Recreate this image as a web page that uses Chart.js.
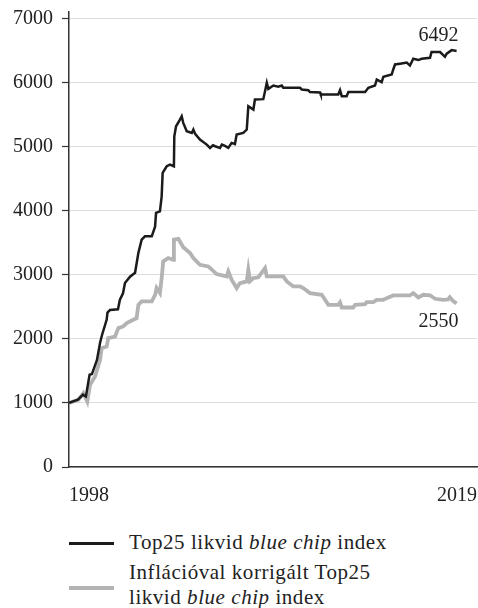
<!DOCTYPE html>
<html>
<head>
<meta charset="utf-8">
<script src="https://cdn.jsdelivr.net/npm/chart.js@4.4.1/dist/chart.umd.min.js"></script>
<style>
  html, body { margin: 0; padding: 0; background: #ffffff; }
  body { width: 478px; height: 608px; position: relative; overflow: hidden;
         font-family: "Liberation Serif", "DejaVu Serif", serif; color: #222; }
  #c { position: absolute; left: 0; top: 0; }
  .lg-line { position: absolute; left: 69px; width: 45px; }
  .lg-text { position: absolute; left: 129px; font-size: 21px; line-height: 25px; letter-spacing: 0.55px; white-space: nowrap; color: #222; }
</style>
</head>
<body>
<canvas id="c" width="478" height="520"></canvas>
<div class="lg-line" style="top:542px;height:2.5px;background:#1b1b1b;"></div>
<div class="lg-text" style="top:530px;">Top25 likvid <i>blue chip</i> index</div>
<div class="lg-line" style="top:586px;height:4px;background:#b3b3b3;"></div>
<div class="lg-text" style="top:560px;">Inflációval korrigált Top25<br>likvid <i>blue chip</i> index</div>
<script>
// ---- data ----
const seriesNames = ["Top25 likvid blue chip index", "Inflációval korrigált Top25 likvid blue chip index"];

const nominalYears = [1998.00,1998.46,1998.72,1998.87,1998.98,1999.06,1999.18,1999.44,1999.60,1999.70,
  1999.94,1999.98,2000.11,2000.52,2000.62,2000.78,2000.88,2001.14,2001.40,2001.57,
  2001.74,2001.91,2002.26,2002.43,2002.48,2002.68,2002.77,2002.82,2003.03,2003.20,
  2003.40,2003.42,2003.51,2003.71,2003.80,2003.88,2004.06,2004.32,2004.40,2004.49,
  2004.74,2005.09,2005.26,2005.41,2005.52,2005.77,2005.87,2006.03,2006.20,2006.37,
  2006.54,2006.63,2006.97,2007.15,2007.23,2007.49,2007.57,2008.00,2008.09,2008.18,
  2008.26,2008.52,2008.77,2008.95,2009.03,2009.89,2009.98,2010.32,2010.40,2010.92,
  2010.96,2011.86,2011.95,2012.04,2012.29,2012.38,2013.24,2013.41,2013.75,2013.84,
  2014.09,2014.18,2014.61,2014.69,2014.78,2015.12,2015.38,2015.55,2015.72,2015.98,
  2016.15,2016.58,2016.66,2017.10,2017.35,2017.44,2017.70,2017.95];
const nominalValues = [1000,1050,1130,1100,1300,1440,1450,1670,1940,2060,
  2300,2410,2450,2460,2610,2710,2870,2970,3030,3340,
  3547,3600,3600,3750,3964,3990,4224,4589,4693,4719,
  4693,5161,5317,5422,5474,5370,5239,5213,5266,5200,
  5109,5031,4979,5020,5005,4979,5030,5010,4979,5057,
  5040,5187,5213,5266,5630,5578,5734,5740,5864,5995,
  5900,5953,5935,5953,5917,5917,5891,5880,5850,5845,
  5812,5812,5880,5786,5786,5850,5850,5917,5953,6047,
  6005,6089,6125,6203,6281,6297,6310,6266,6370,6350,
  6370,6386,6474,6474,6401,6450,6505,6492];

const realYears = [1998.00,1998.48,1998.74,1998.94,1999.08,1999.34,1999.60,1999.68,1999.94,2000.02,
  2000.37,2000.54,2000.79,2000.97,2001.31,2001.48,2001.57,2001.74,2002.26,2002.43,
  2002.51,2002.68,2002.77,2002.85,2003.11,2003.37,2003.40,2003.63,2003.88,2004.23,
  2004.40,2004.74,2005.17,2005.60,2006.12,2006.20,2006.37,2006.63,2006.80,2007.15,
  2007.23,2007.32,2007.49,2007.74,2008.09,2008.18,2009.03,2009.21,2009.55,2009.89,
  2010.06,2010.40,2011.01,2011.35,2011.86,2011.95,2012.04,2012.63,2012.72,2013.24,
  2013.32,2013.66,2013.84,2014.18,2014.35,2014.69,2015.55,2015.72,2015.98,2016.24,
  2016.58,2016.84,2017.27,2017.51,2017.60,2017.77,2017.95];
const realValues = [1000,1047,1151,1020,1281,1411,1672,1854,1880,2011,
  2036,2167,2193,2245,2297,2323,2531,2583,2583,2687,
  2792,2714,2948,3208,3261,3234,3547,3560,3430,3339,
  3261,3156,3130,3010,2974,3052,2922,2792,2870,2896,
  3078,2900,2948,2960,3104,2974,2974,2896,2817,2817,
  2792,2714,2687,2531,2531,2570,2489,2489,2531,2540,
  2573,2573,2609,2609,2635,2677,2677,2714,2646,2687,
  2680,2625,2609,2615,2650,2590,2550];

const endLabels = ["6492", "2550"];
const yTicks = [0, 1000, 2000, 3000, 4000, 5000, 6000, 7000];
const xTicks = [1998, 2019];
const xTickLabels = ["1998", "2019"];

// ---- build ----
const toPoints = (xs, ys) => xs.map((x, i) => ({ x: x, y: ys[i] }));

const endLabelPlugin = {
  id: 'endLabels',
  afterDatasetsDraw(chart) {
    const ctx = chart.ctx;
    ctx.save();
    ctx.font = '20px "Liberation Serif", "DejaVu Serif", serif';
    ctx.fillStyle = '#222';
    ctx.textAlign = 'right';
    ctx.textBaseline = 'alphabetic';
    const offsets = [-10, 23];
    chart.data.datasets.forEach((ds, i) => {
      const meta = chart.getDatasetMeta(i);
      const last = meta.data[meta.data.length - 1];
      ctx.fillText(endLabels[i], last.x + 2, last.y + offsets[i]);
    });
    ctx.restore();
  }
};

new Chart(document.getElementById('c'), {
  type: 'line',
  data: {
    datasets: [
      { label: seriesNames[0], data: toPoints(nominalYears, nominalValues),
        borderColor: '#1b1b1b', borderWidth: 2.5, pointRadius: 0, tension: 0, fill: false },
      { label: seriesNames[1], data: toPoints(realYears, realValues),
        borderColor: '#b3b3b3', borderWidth: 3.8, pointRadius: 0, tension: 0, fill: false }
    ]
  },
  options: {
    responsive: false,
    animation: false,
    layout: { padding: { top: 12, right: 1, left: 0, bottom: 0 } },
    plugins: { legend: { display: false }, tooltip: { enabled: false } },
    scales: {
      x: {
        type: 'linear',
        min: 1998, max: 2019,
        afterBuildTicks: (s) => { s.ticks = xTicks.map(v => ({ value: v })); },
        afterFit: (s) => { s.height = 53; s.paddingLeft = 0; s.paddingRight = 0; },
        grid: { display: false, drawTicks: false },
        border: { display: true, color: '#333', width: 1.5 },
        ticks: {
          align: 'inner', padding: 17, maxRotation: 0, autoSkip: false,
          color: '#222', font: { family: '"Liberation Serif", "DejaVu Serif", serif', size: 20 },
          callback: (v) => { const i = xTicks.indexOf(v); return i >= 0 ? xTickLabels[i] : ''; }
        }
      },
      y: {
        min: 0, max: 7100,
        afterBuildTicks: (s) => { s.ticks = yTicks.map(v => ({ value: v })); },
        afterFit: (s) => { s.width = 69; s.paddingTop = 0; s.paddingBottom = 0; },
        grid: { color: '#dcdcdc', lineWidth: 1, tickColor: '#333', tickLength: 7, tickWidth: 1.2 },
        border: { display: true, color: '#333', width: 1.5 },
        ticks: {
          padding: 9, color: '#222',
          font: { family: '"Liberation Serif", "DejaVu Serif", serif', size: 20 },
          callback: (v) => String(v)
        }
      }
    }
  },
  plugins: [endLabelPlugin]
});
</script>
</body>
</html>
